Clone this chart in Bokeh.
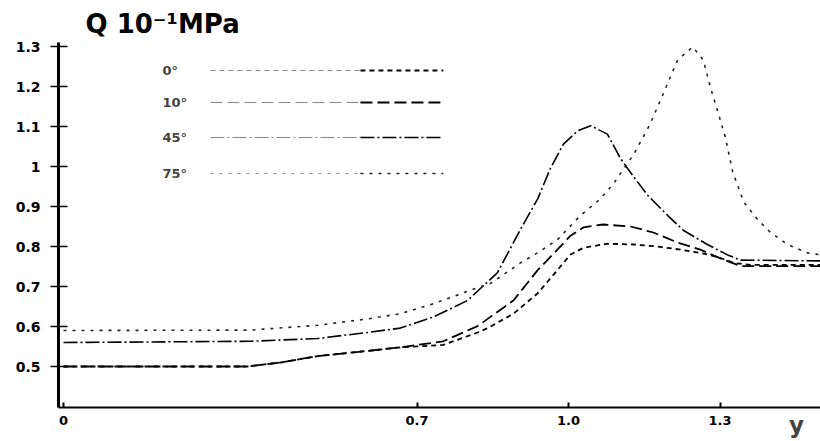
from bokeh.plotting import figure
from bokeh.models import Range1d, FixedTicker, Label
from bokeh.embed import file_html
from bokeh.resources import INLINE

# ---- data ----
angles = ["0°", "10°", "45°", "75°"]

x_0deg = [0, 0.10, 0.20, 0.30, 0.364, 0.43, 0.503, 0.602, 0.667, 0.752, 0.82, 0.84,
          0.891, 0.939, 0.978, 1.004, 1.03, 1.077, 1.129, 1.176, 1.222, 1.261, 1.295,
          1.327, 1.36, 1.5]
q_0deg = [0.50, 0.50, 0.50, 0.50, 0.50, 0.51, 0.526, 0.539, 0.548, 0.554, 0.585, 0.596,
          0.632, 0.683, 0.741, 0.780, 0.797, 0.807, 0.805, 0.800, 0.792, 0.784, 0.774,
          0.759, 0.754, 0.754]

x_10deg = [0, 0.364, 0.43, 0.503, 0.602, 0.667, 0.752, 0.82, 0.891, 0.939, 0.978,
           1.004, 1.03, 1.069, 1.123, 1.168, 1.216, 1.261, 1.307, 1.341, 1.5]
q_10deg = [0.50, 0.50, 0.51, 0.526, 0.539, 0.548, 0.563, 0.601, 0.665, 0.741, 0.792,
           0.827, 0.848, 0.855, 0.850, 0.835, 0.810, 0.792, 0.767, 0.751, 0.751]

x_45deg = [0, 0.37, 0.503, 0.602, 0.667, 0.733, 0.80, 0.859, 0.905, 0.939, 0.964,
           0.99, 1.018, 1.044, 1.077, 1.103, 1.117, 1.156, 1.196, 1.228, 1.275, 1.315,
           1.341, 1.5]
q_45deg = [0.56, 0.563, 0.570, 0.585, 0.596, 0.624, 0.665, 0.734, 0.843, 0.919, 0.995,
           1.056, 1.089, 1.102, 1.081, 1.020, 0.995, 0.929, 0.878, 0.840, 0.805, 0.779,
           0.766, 0.764]

x_75deg = [0, 0.37, 0.503, 0.602, 0.667, 0.733, 0.80, 0.846, 0.905, 0.945, 0.978,
           1.024, 1.063, 1.089, 1.129, 1.162, 1.188, 1.216, 1.246, 1.267, 1.281, 1.295,
           1.311, 1.325, 1.347, 1.374, 1.40, 1.434, 1.473, 1.5]
q_75deg = [0.59, 0.591, 0.603, 0.619, 0.632, 0.657, 0.688, 0.708, 0.759, 0.789, 0.817,
           0.878, 0.919, 0.957, 1.030, 1.107, 1.183, 1.266, 1.299, 1.266, 1.198, 1.140,
           1.071, 0.987, 0.911, 0.868, 0.835, 0.805, 0.784, 0.779]

x_ticks = [0, 0.7, 1.0, 1.3]
x_tick_labels = ["0", "0.7", "1.0", "1.3"]
y_ticks = [0.5, 0.6, 0.7, 0.8, 0.9, 1.0, 1.1, 1.2, 1.3]
y_tick_labels = ["0.5", "0.6", "0.7", "0.8", "0.9", "1", "1.1", "1.2", "1.3"]

title_text = "Q 10⁻¹MPa"
x_name = "y"

# ---- styles ----
FONT = "DejaVu Sans"
styles = [
    dict(line_dash="5 4", line_width=1.8, line_color="black"),
    dict(line_dash="12 5", line_width=1.8, line_color="black"),
    dict(line_dash="14 3 2 3", line_width=1.6, line_color="black"),
    dict(line_dash="3 6", line_width=1.6, line_color="#222222"),
]

p = figure(width=820, height=441, output_backend="svg", toolbar_location=None,
           x_range=Range1d(-0.0099, 1.499), y_range=Range1d(0.3975, 1.31),
           min_border_left=58, min_border_right=0, min_border_top=42,
           min_border_bottom=34)
p.outline_line_color = None
p.xgrid.visible = False
p.ygrid.visible = False
p.background_fill_color = "white"
p.border_fill_color = "white"

# title
p.title.text = title_text
p.title.text_font = FONT
p.title.text_font_style = "bold"
p.title.text_font_size = "26px"
p.title.align = "left"
p.title.offset = 27
p.title.standoff = 7
p.title.text_color = "black"

series = [(x_0deg, q_0deg), (x_10deg, q_10deg), (x_45deg, q_45deg), (x_75deg, q_75deg)]
for (xs, qs), st in zip(series, styles):
    p.line(xs, qs, **st)

# axes
p.yaxis.ticker = FixedTicker(ticks=y_ticks)
p.yaxis.major_label_overrides = {t: l for t, l in zip(y_ticks, y_tick_labels)}
p.yaxis.axis_line_width = 3
p.yaxis.major_tick_in = 9
p.yaxis.major_tick_out = 8
p.yaxis.major_tick_line_width = 1.5
p.yaxis.minor_tick_line_color = None
p.yaxis.major_label_standoff = 10
p.yaxis.major_label_text_font = FONT
p.yaxis.major_label_text_font_style = "bold"
p.yaxis.major_label_text_font_size = "14px"
p.yaxis.major_label_text_color = "black"

xax = p.xaxis[0]
xax.ticker = FixedTicker(ticks=x_ticks)
xax.major_label_overrides = {t: l for t, l in zip(x_ticks, x_tick_labels)}
xax.axis_line_width = 2
xax.major_tick_in = 5
xax.major_tick_out = 0
xax.major_tick_line_width = 2
xax.minor_tick_line_color = None
xax.major_label_standoff = 8
xax.major_label_text_font = FONT
xax.major_label_text_font_style = "bold"
xax.major_label_text_font_size = "13px"
xax.major_label_text_color = "black"
# axis name at the right end (padded so it sits left of the axis end)
xax.axis_label = x_name + "\u00a0" * 6
xax.axis_label_text_font = FONT
xax.axis_label_text_font_style = "bold"
xax.axis_label_text_font_size = "23px"
xax.axis_label_standoff = -16
xax.axis_label_align = "end"

# legend (label left of line sample)
leg_y = [1.24, 1.16, 1.0725, 0.9825]
for name, ly, st in zip(angles, leg_y, styles):
    p.add_layout(Label(x=0.196, y=ly, text=name, text_font=FONT, text_font_style="bold",
                       text_font_size="13px", text_color="#444444", text_baseline="middle"))
    gray = dict(st)
    gray["line_color"] = "#888888"
    gray["line_width"] = 1.2
    p.line([0.291, 0.588], [ly, ly], **gray)
    p.line([0.588, 0.752], [ly, ly], **st)

open("out.html", "w").write(file_html(p, INLINE))
